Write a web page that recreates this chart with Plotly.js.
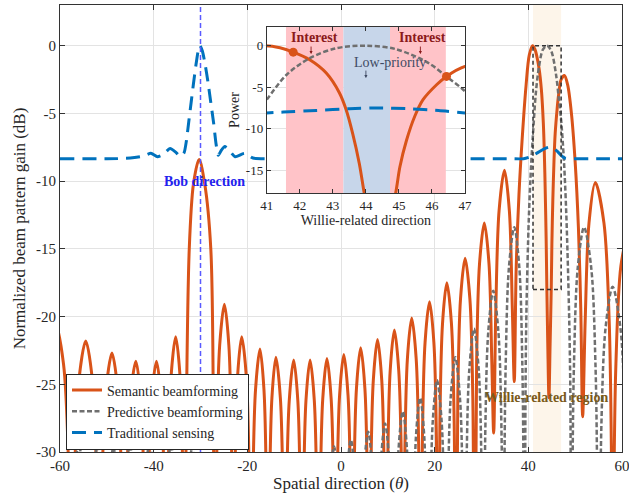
<!DOCTYPE html>
<html><head><meta charset="utf-8">
<script src="https://cdn.plot.ly/plotly-3.0.1.min.js"></script>
<style>html,body{margin:0;padding:0;background:#fff}#chart{width:629px;height:500px}</style>
</head><body><div id="chart"></div>
<script>
// Semantic beamforming (orange)
const semX = [-62.75,-61.0,-59.25,-58.2,-57.5,
 -56.9,-56.0,-54.5,-53.05,-52.18,-51.6,
 -51.06,-50.25,-48.9,-47.6,-46.82,-46.3,
 -45.8,-45.05,-43.8,-42.7,-42.04,-41.6,
 -41.16,-40.5,-39.4,-38.35,-37.72,-37.3,
 -36.9,-36.3,-35.3,-34.35,-33.78,-33.4,
 -33.1,-32.4,-31.5,-30.3,-29.1,-27.8,-27.2,-26.9,
 -26.5,-25.9,-24.9,-23.95,-23.38,-23.0,
 -22.64,-22.1,-21.2,-20.2,-19.6,-19.2,
 -18.82,-18.25,-17.3,-16.45,-15.94,-15.6,
 -15.26,-14.75,-13.9,-12.95,-12.38,-12.0,
 -11.62,-11.05,-10.1,-9.22,-8.7,-8.35,
 -8.0,-7.48,-6.6,-5.7,-5.16,-4.8,
 -4.44,-3.9,-3.0,-2.1,-1.56,-1.2,
 -0.84,-0.3,0.6,1.5,2.04,2.4,
 2.76,3.3,4.2,5.1,5.64,6.0,
 6.36,6.9,7.8,8.7,9.24,9.6,
 9.96,10.5,11.4,12.33,12.92,13.25,
 13.62,14.18,15.1,16.05,16.62,17.0,
 17.38,17.95,18.9,19.83,20.38,20.75,
 21.12,21.68,22.6,23.58,24.16,24.55,
 24.94,25.52,26.5,27.52,28.14,28.55,
 28.96,29.58,30.6,31.6,32.2,32.6,
 33.06,33.75,34.9,35.95,36.58,37.0,
 37.4,38.0,38.7,39.5,40.2,40.9,41.4,41.8,42.3,42.8,43.2,43.4,43.6,43.8,43.95,44.15,44.4,
 44.65,44.9,45.03,45.23,45.48,45.73,46.14,46.44,47.0,47.7,48.4,49.2,50.0,50.7,51.2,51.6,
 52.14,52.95,54.3,56.15,57.26,57.74,58.0,
 58.25,58.7,59.75,61.5];
const semY = [-23.5,-20.5,-23.5,-30.7,-50,
 -32.0,-24.8,-21.8,-24.8,-32.0,-50,
 -32.9,-25.7,-22.7,-25.7,-32.9,-50,
 -33.5,-26.3,-23.3,-26.3,-33.5,-50,
 -33.5,-26.3,-23.3,-26.3,-33.5,-50,
 -31.7,-24.5,-21.5,-24.5,-31.7,-50,
 -30,-15,-10.2,-8.4,-10.2,-15,-30,-50,
 -29.3,-22.1,-19.1,-22.1,-29.3,-50,
 -31.7,-24.5,-21.5,-24.5,-31.7,-50,
 -32.6,-25.4,-22.4,-25.4,-32.6,-50,
 -33.2,-26.0,-23.0,-26.0,-33.2,-50,
 -33.4,-26.2,-23.2,-26.2,-33.4,-50,
 -33.4,-26.2,-23.2,-26.2,-33.4,-50,
 -33.3,-26.1,-23.1,-26.1,-33.3,-50,
 -33.0,-25.8,-22.8,-25.8,-33.0,-50,
 -32.5,-25.3,-22.3,-25.3,-32.5,-50,
 -31.9,-24.7,-21.7,-24.7,-31.9,-50,
 -31.2,-24.0,-21.0,-24.0,-31.2,-50,
 -30.3,-23.1,-20.1,-23.1,-30.3,-50,
 -29.1,-21.9,-18.9,-21.9,-29.1,-50,
 -27.7,-20.5,-17.5,-20.5,-27.7,-50,
 -25.9,-18.7,-15.7,-18.7,-25.9,-50,
 -23.3,-16.1,-13.1,-16.1,-23.3,-28.6,
 -19.4,-12.2,-9.2,-12.2,-19.4,-24.8,
 -16.5,-11,-6.8,-3,-0.7,0,-0.25,-0.77,-1.7,-3.3,-5.7,-7.7,-10.6,-14.2,-17.8,-22,-26,
 -22,-17.8,-14.6,-11.4,-8.5,-6.5,-4.7,-3.7,-2.5,-2.2,-2.9,-5.0,-8.6,-13.5,-19.5,-27.4,
 -20.3,-13.1,-10.1,-13.1,-20.3,-30.1,-50,
 -33.3,-23.5,-16.3,-13.3];

// Predictive beamforming (gray)
const predX = [-60.5,-58.0,
 -57.0,-56.0,-54.95,-53.9,
 -52.95,-52.0,-51.15,-50.3,
 -49.45,-48.6,-47.8,-47.0,
 -46.05,-45.1,-44.15,-43.2,
 -42.05,-40.9,-39.8,-38.65,
 -37.5,-36.3,-35.15,-34.0,
 -32.9,-31.8,-30.7,-29.55,
 -28.5,-27.5,-26.45,-25.4,
 -24.4,-23.45,-22.5,-21.5,
 -20.6,-19.65,-18.7,-17.8,
 -16.9,-16.0,-15.1,-14.15,
 -13.2,-12.3,-11.4,-10.5,
 -9.6,-8.7,-7.8,-6.9,
 -6.0,-5.1,-4.2,-3.3,
 -2.4,-1.5,-0.6,0.3,
 1.2,2.1,3.0,3.95,
 4.88,5.8,6.7,7.6,
 8.5,9.4,10.35,11.3,
 12.25,13.2,14.12,15.05,
 15.98,16.9,17.8,18.7,
 19.06,19.6,20.5,21.48,22.06,22.45,
 22.84,23.42,24.4,25.4,26.0,26.4,
 26.8,27.4,28.4,29.4,30.0,30.4,
 30.82,31.45,32.5,33.6,34.26,34.7,
 34.86,35.16,35.85,37.0,38.08,38.72,39.0,39.15,
 39.4,39.6,40.1,40.6,41.0,41.6,42.3,43.1,44.0,44.9,45.9,46.5,47.0,47.6,48.1,48.65,48.95,49.2,
 49.39,49.74,50.55,51.9,53.43,54.34,54.74,55.0,
 55.6,56.5,58.0,59.65,60.64,61.3];
const predY = [-31.0,-50,
 -32.4,-29.4,-32.4,-50,
 -32.5,-29.5,-32.5,-50,
 -32.6,-29.6,-32.6,-50,
 -32.5,-29.5,-32.5,-50,
 -32.5,-29.5,-32.5,-50,
 -32.6,-29.6,-32.6,-50,
 -32.8,-29.8,-32.8,-50,
 -34.2,-31.2,-34.2,-50,
 -34.5,-31.5,-34.5,-50,
 -34.5,-31.5,-34.5,-50,
 -34.3,-31.3,-34.3,-50,
 -34.0,-31.0,-34.0,-50,
 -33.6,-30.6,-33.6,-50,
 -33.2,-30.2,-33.2,-50,
 -32.6,-29.6,-32.6,-50,
 -32.1,-29.1,-32.1,-50,
 -31.5,-28.5,-31.5,-50,
 -30.9,-27.9,-30.9,-50,
 -30.0,-27.0,-30.0,-50,
 -29.0,-26.0,-29.0,-50,
 -34.9,-27.7,-24.7,-27.7,-34.9,-50,
 -33.2,-26.0,-23.0,-26.0,-33.2,-50,
 -31.1,-23.9,-20.9,-23.9,-31.1,-50,
 -28.3,-21.1,-18.1,-21.1,-28.3,-50,
 -33.4,-23.6,-16.4,-13.4,-16.4,-23.6,-33.4,-50,
 -25.6,-19.5,-12.8,-8.8,-6.5,-3.5,-1.5,-0.3,0,-0.4,-2.1,-3.9,-5.5,-8.5,-12.4,-19,-25,-50,
 -33.4,-23.6,-16.4,-13.4,-16.4,-23.6,-33.4,-50,
 -28.0,-20.8,-17.8,-20.8,-28.0,-50];

// Traditional sensing (blue)
const tradX = [-60,-50,-45,-42.2,-40.6,-39.2,-38.0,-36.5,-35.2,-34.3,-33.5,-33.0,-32.5,-32.0,-31.5,-31.0,-30.5,-30.1,-29.6,-29.0,-28.4,-27.8,-27.2,-26.7,-26.2,-25.5,-24.8,-23.7,-22.6,-20.6,-18.8,-15,0,20,36,39,40.5,41.5,42.5,43.5,44.4,45.3,46.2,47.0,47.8,49,55,60];
const tradY = [-8.35,-8.35,-8.3,-8.15,-7.95,-8.2,-8.05,-7.6,-7.9,-8.2,-7.9,-7.0,-5.6,-4.2,-2.8,-1.5,-0.4,0,-0.4,-1.4,-2.7,-4.2,-5.7,-7.2,-8.1,-7.7,-7.45,-7.8,-8.2,-7.95,-8.3,-8.35,-8.35,-8.35,-8.35,-8.35,-8.2,-8.0,-7.8,-7.6,-7.5,-7.6,-7.8,-8.1,-8.3,-8.35,-8.35,-8.35];

// highlighted points in inset
const markX = [41.8, 46.44];
const markY = [-0.77, -3.7];

// inset zones (Willie-related direction): Interest | Low-priority | Interest
const zoneEdges = [41.58, 43.32, 44.73, 46.42];
const zoneColors = ['#FFC3C8', '#C7D6EA', '#FFC3C8'];

// ticks
const xTickVals = [-60,-40,-20,0,20,40,60];
const xTickText = ['-60','-40','-20','0','20','40','60'];
const yTickVals = [-30,-25,-20,-15,-10,-5,0];
const yTickText = ['-30','-25','-20','-15','-10','-5','0'];
const inXTickVals = [41,42,43,44,45,46,47];
const inXTickText = ['41','42','43','44','45','46','47'];
const inYTickVals = [-15,-10,-5,0];
const inYTickText = ['-15','-10','-5','0'];
const inYRange = [-17.8, 2.3];

const FONT = '"Liberation Serif", "Times New Roman", Times, serif';
const ORANGE = '#D95319', GRAY = '#6f6f6f', BLUE = '#0072BD';

function series(xa, ya, show) {
  return [
    {x: semX, y: semY, xaxis: xa, yaxis: ya, mode: 'lines', name: 'Semantic beamforming', showlegend: show,
     line: {color: ORANGE, width: 3, shape: 'spline', smoothing: 0.9}},
    {x: predX, y: predY, xaxis: xa, yaxis: ya, mode: 'lines', name: 'Predictive beamforming', showlegend: show,
     line: {color: GRAY, width: 2.5, dash: '5px,2.5px', shape: 'spline', smoothing: 0.9}},
    {x: tradX, y: tradY, xaxis: xa, yaxis: ya, mode: 'lines', name: 'Traditional sensing', showlegend: show,
     line: {color: BLUE, width: 3, dash: '14px,8px', shape: 'spline', smoothing: 0.6}}
  ];
}

const zoneTraces = zoneColors.map((c, i) => ({
  x: [zoneEdges[i], zoneEdges[i], zoneEdges[i + 1], zoneEdges[i + 1]],
  y: [inYRange[0], inYRange[1], inYRange[1], inYRange[0]],
  xaxis: 'x2', yaxis: 'y2', mode: 'lines', fill: 'toself', fillcolor: c,
  line: {width: 0, color: 'rgba(0,0,0,0)'}, showlegend: false, hoverinfo: 'skip'
}));

const data = series('x', 'y', true).concat(zoneTraces).concat(series('x2', 'y2', false)).concat([
  {x: markX, y: markY, xaxis: 'x2', yaxis: 'y2', mode: 'markers', showlegend: false,
   marker: {color: ORANGE, size: 9}}
]);

const axisCommon = {
  showline: true, linecolor: '#333', linewidth: 1, mirror: 'ticks', ticks: 'inside',
  tickcolor: '#333', gridcolor: '#e3e3e3', gridwidth: 1, zeroline: false,
  tickfont: {family: FONT, size: 15, color: '#262626'}
};

function arrow(x, y, color) {
  return {xref: 'x2', yref: 'y2', x: x, y: y, ax: 0, ay: -9, text: '', showarrow: true,
          arrowhead: 2, arrowsize: 0.7, arrowwidth: 0.9, arrowcolor: color, standoff: 0};
}

const layout = {
  width: 629, height: 500,
  margin: {l: 60, r: 7, t: 5, b: 48},
  paper_bgcolor: '#fff', plot_bgcolor: '#fff',
  font: {family: FONT, color: '#262626'},
  xaxis: Object.assign({}, axisCommon, {
    domain: [0, 1], range: [-60, 60], tickvals: xTickVals, ticktext: xTickText, ticklen: 5,
    ticklabeloverflow: 'allow',
    title: {text: 'Spatial direction (<i>θ</i>)', font: {family: FONT, size: 17, color: '#262626'}, standoff: 3}
  }),
  yaxis: Object.assign({}, axisCommon, {
    domain: [0, 1], range: [-30, 3], tickvals: yTickVals, ticktext: yTickText, ticklen: 5,
    ticklabeloverflow: 'allow',
    title: {text: 'Normalized beam pattern gain (dB)', font: {family: FONT, size: 17, color: '#262626'}, standoff: 6}
  }),
  xaxis2: Object.assign({}, axisCommon, {
    domain: [0.368, 0.7206], anchor: 'y2', range: [41, 47], tickvals: inXTickVals, ticktext: inXTickText, ticklen: 4,
    tickfont: {family: FONT, size: 13, color: '#262626'},
    title: {text: 'Willie-related direction', font: {family: FONT, size: 14, color: '#262626'}, standoff: 2}
  }),
  yaxis2: Object.assign({}, axisCommon, {
    domain: [0.5787, 0.9515], anchor: 'x2', range: inYRange, tickvals: inYTickVals, ticktext: inYTickText, ticklen: 4,
    tickfont: {family: FONT, size: 13, color: '#262626'},
    title: {text: 'Power', font: {family: FONT, size: 14, color: '#262626'}, standoff: 2}
  }),
  legend: {
    x: 0.0107, y: 0.0906, xanchor: 'left', yanchor: 'middle',
    bgcolor: '#fff', bordercolor: '#262626', borderwidth: 1,
    font: {family: FONT, size: 14, color: '#262626'}, tracegroupgap: 0
  },
  shapes: [
    {type: 'rect', xref: 'x', yref: 'y domain', x0: 41, x1: 47, y0: 0, y1: 1,
     fillcolor: '#FDF5EA', line: {width: 0}, layer: 'below'},
    {type: 'rect', xref: 'x', yref: 'y', x0: 41, x1: 47, y0: -18, y1: 0,
     line: {color: '#333', width: 1.5, dash: '4px,3px'}, layer: 'above'},
    {type: 'line', xref: 'x', yref: 'y domain', x0: -30, x1: -30, y0: 0, y1: 1,
     line: {color: '#5a5aff', width: 1.5, dash: '5px,3px'}, layer: 'above'}
  ],
  annotations: [
    {xref: 'x', yref: 'y', x: -29.1, y: -10, text: '<b>Bob direction</b>', showarrow: false,
     font: {family: FONT, size: 14, color: '#2222ee'}},
    {xref: 'x', yref: 'y', x: 43.9, y: -26, text: '<b>Willie-related region</b>', showarrow: false,
     font: {family: FONT, size: 14, color: '#7a5a1a'}},
    {xref: 'x2', yref: 'y2', x: 42.45, y: 1.05, text: '<b>Interest</b>', showarrow: false,
     font: {family: FONT, size: 14, color: '#8b1a1a'}},
    arrow(42.34, -1.0, '#8b1a1a'),
    {xref: 'x2', yref: 'y2', x: 45.72, y: 1.05, text: '<b>Interest</b>', showarrow: false,
     font: {family: FONT, size: 14, color: '#8b1a1a'}},
    arrow(45.65, -1.0, '#8b1a1a'),
    {xref: 'x2', yref: 'y2', x: 44.72, y: -2.0, text: 'Low-priority', showarrow: false,
     font: {family: FONT, size: 14, color: '#3f4a63'}},
    arrow(44.0, -3.9, '#3f4a63')
  ]
};

Plotly.newPlot('chart', data, layout, {displayModeBar: false, staticPlot: true});
</script>
</body></html>
